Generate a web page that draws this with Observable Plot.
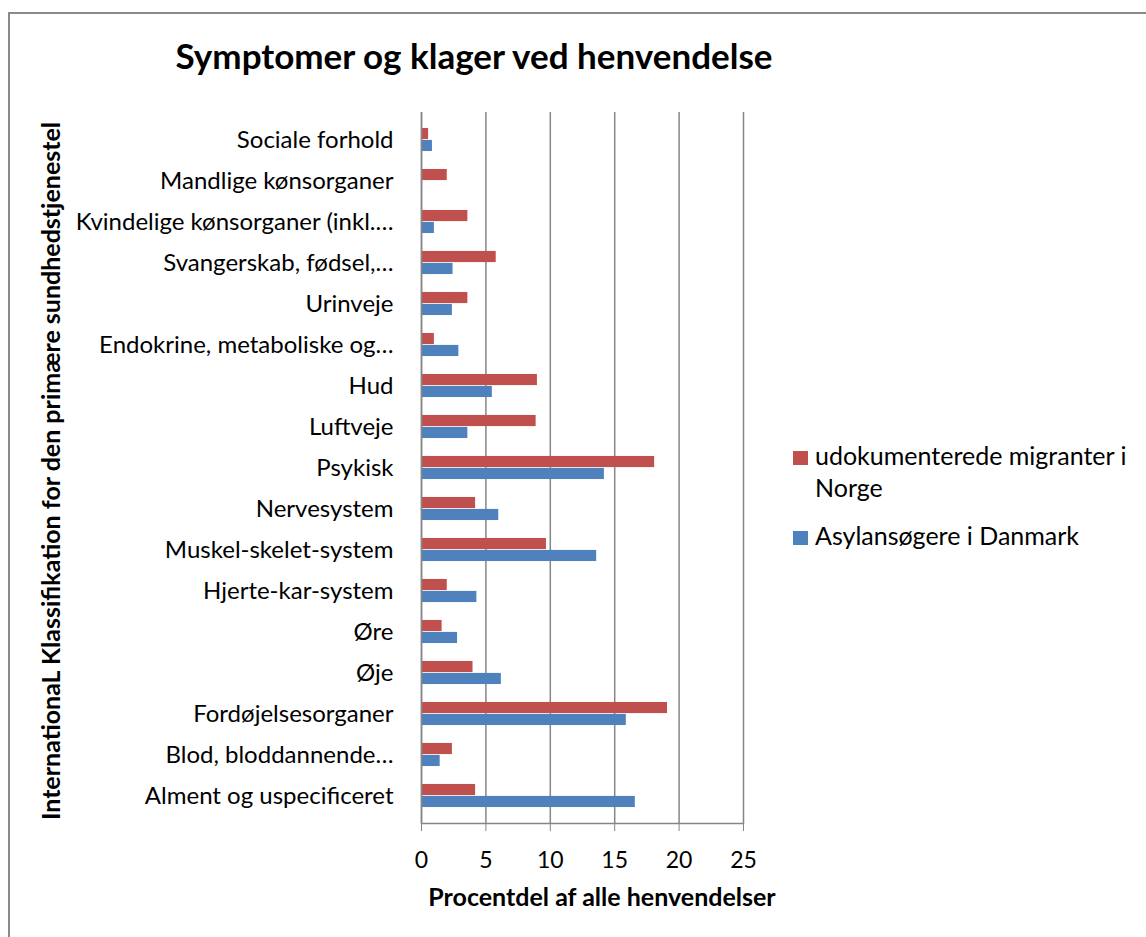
<!DOCTYPE html>
<html>
<head>
<meta charset="utf-8">
<script src="https://cdn.jsdelivr.net/npm/d3@7"></script>
<script src="https://cdn.jsdelivr.net/npm/@observablehq/plot@0.6"></script>
<style>
  body { margin: 0; background: #fff; }
  #wrap { position: relative; width: 1146px; height: 937px; overflow: hidden; font-family: Lato, "Open Sans", sans-serif; }
  #border { position: absolute; left: 8px; top: 12px; width: 2000px; height: 2000px; border-left: 2px solid #8a8a8a; border-top: 2px solid #8a8a8a; }
  #chart { position: absolute; left: 0; top: 0; }
  #overlay { position: absolute; left: 0; top: 0; pointer-events: none; }
</style>
</head>
<body>
<div id="wrap">
  <div id="border"></div>
  <div id="chart"></div>
</div>
<script>
const titleText = "Symptomer og klager ved henvendelse";
const xTitle = "Procentdel af alle henvendelser";
const yTitle = "InternationaL Klassifikation for den primære sundhedstjenestel";

const categories = [
  "Sociale forhold",
  "Mandlige kønsorganer",
  "Kvindelige kønsorganer (inkl.…",
  "Svangerskab, fødsel,…",
  "Urinveje",
  "Endokrine, metaboliske og…",
  "Hud",
  "Luftveje",
  "Psykisk",
  "Nervesystem",
  "Muskel-skelet-system",
  "Hjerte-kar-system",
  "Øre",
  "Øje",
  "Fordøjelsesorganer",
  "Blod, bloddannende…",
  "Alment og uspecificeret"
];
const seriesNames = ["udokumenterede migranter i Norge", "Asylansøgere i Danmark"];
const norge   = [0.55, 2.0, 3.6, 5.8, 3.6, 1.0, 9.0, 8.9, 18.1, 4.2, 9.7, 2.0, 1.6, 4.0, 19.1, 2.4, 4.2];
const danmark = [0.85, 0.08, 1.0, 2.45, 2.4, 2.9, 5.5, 3.6, 14.2, 6.0, 13.6, 4.3, 2.8, 6.2, 15.9, 1.45, 16.6];
const xTicks = [0, 5, 10, 15, 20, 25];
const colors = ["#C0504D", "#4F81BD"];

const W = 1146, H = 937;
const mL = 421, mR = 403, mT = 112, mB = 114;
const band = (H - mT - mB) / categories.length;
const barH = band / 3.5;

const rows = categories.map((c, i) => ({category: c, norge: norge[i], danmark: danmark[i]}));

const plot = Plot.plot({
  width: W, height: H,
  marginLeft: mL, marginRight: mR, marginTop: mT, marginBottom: mB,
  style: {fontFamily: "Lato, 'Open Sans', sans-serif", color: "#000", background: "transparent"},
  x: {domain: [0, 25], ticks: xTicks},
  y: {domain: categories, padding: 0},
  marks: [
    Plot.gridX(xTicks, {stroke: "#868686", strokeOpacity: 1, strokeWidth: 1.5}),
    Plot.barX(rows, {y: "category", x: "norge", fill: colors[0],
      insetTop: band / 2 - barH, insetBottom: band / 2}),
    Plot.barX(rows, {y: "category", x: "danmark", fill: colors[1],
      insetTop: band / 2, insetBottom: band / 2 - barH}),
    Plot.ruleX([0], {stroke: "#868686", strokeWidth: 1.5}),
    Plot.frame({anchor: "bottom", stroke: "#868686", strokeWidth: 1.5}),
    Plot.axisX({ticks: xTicks, anchor: "bottom", tickSize: 8, tickPadding: 20, fontSize: 23, label: null, stroke: "#868686"}),
    Plot.axisY({anchor: "left", tickSize: 0, tickPadding: 28, fontSize: 24, label: null})
  ]
});
document.getElementById("chart").appendChild(plot);

// overlay texts: title, axis titles, legend
const svg = d3.select("#wrap").append("svg")
  .attr("id", "overlay").attr("width", W).attr("height", H)
  .style("font-family", "Lato, 'Open Sans', sans-serif");

svg.append("text").attr("x", 474).attr("y", 69).attr("text-anchor", "middle")
  .attr("font-size", 35).attr("font-weight", 700).attr("fill", "#000").text(titleText);

svg.append("text").attr("x", 602).attr("y", 906).attr("text-anchor", "middle")
  .attr("font-size", 25).attr("font-weight", 700).attr("fill", "#000").text(xTitle);

svg.append("text").attr("transform", "translate(60,471) rotate(-90)").attr("text-anchor", "middle")
  .attr("font-size", 25).attr("font-weight", 700).attr("fill", "#000").text(yTitle);

// legend
const leg = svg.append("g");
const legendItems = [
  {name: seriesNames[0], color: colors[0], lines: ["udokumenterede migranter i", "Norge"], y: 465},
  {name: seriesNames[1], color: colors[1], lines: ["Asylansøgere i Danmark"], y: 545}
];
legendItems.forEach(it => {
  leg.append("rect").attr("x", 793).attr("y", it.y - 14).attr("width", 15).attr("height", 14).attr("fill", it.color);
  const t = leg.append("text").attr("x", 815).attr("y", it.y).attr("font-size", 25).attr("fill", "#000");
  it.lines.forEach((l, k) => t.append("tspan").attr("x", 815).attr("dy", k ? 32 : 0).text(l));
});
</script>
</body>
</html>
